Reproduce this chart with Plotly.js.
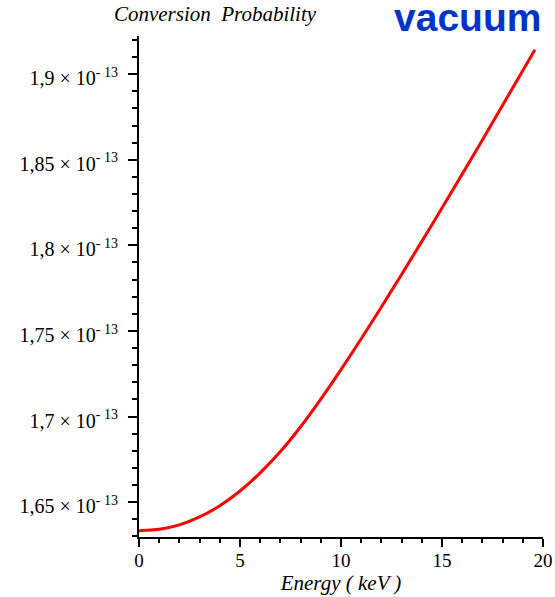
<!DOCTYPE html>
<html>
<head>
<meta charset="utf-8">
<script src="https://cdn.plot.ly/plotly-3.0.1.min.js"></script>
<style>
  html, body { margin: 0; padding: 0; background: #ffffff; }
  #plot { width: 555px; height: 597px; }
</style>
</head>
<body>
<div id="plot"></div>
<script>
// Photon energy (keV)
const energy = [0, 1, 2, 3, 4, 5, 6, 7, 8, 9, 10, 11, 12, 13, 14, 15, 16, 17, 18, 19, 19.6];

// Conversion probability in vacuum
const probability = [
  1.6333e-13, 1.6341e-13, 1.6367e-13, 1.6413e-13, 1.6479e-13, 1.6565e-13,
  1.6671e-13, 1.6795e-13, 1.6940e-13, 1.7102e-13, 1.7274e-13, 1.7454e-13,
  1.7640e-13, 1.7830e-13, 1.8023e-13, 1.8218e-13, 1.8416e-13, 1.8616e-13,
  1.8818e-13, 1.9021e-13, 1.9143e-13
];

// Axis tick positions and labels
const xTickVals = [0, 5, 10, 15, 20];
const yTickVals = [1.65e-13, 1.70e-13, 1.75e-13, 1.80e-13, 1.85e-13, 1.90e-13];
const yTickText = [
  '1,65 × 10<sup>- 13</sup>',
  '1,7 × 10<sup>- 13</sup>',
  '1,75 × 10<sup>- 13</sup>',
  '1,8 × 10<sup>- 13</sup>',
  '1,85 × 10<sup>- 13</sup>',
  '1,9 × 10<sup>- 13</sup>'
];

const serif = 'Liberation Serif, Times New Roman, serif';

const trace = {
  x: energy,
  y: probability,
  type: 'scatter',
  mode: 'lines',
  line: { color: '#ff0000', width: 3, shape: 'spline', smoothing: 0.8 },
  hoverinfo: 'skip'
};

const layout = {
  width: 555,
  height: 597,
  margin: { l: 139, r: 12, t: 36, b: 60, pad: 0 },
  paper_bgcolor: '#ffffff',
  plot_bgcolor: '#ffffff',
  showlegend: false,
  title: {
    text: '<i>Conversion  Probability</i>',
    font: { family: serif, size: 21, color: '#000000' },
    xref: 'container', yref: 'container',
    x: 215 / 555, xanchor: 'center',
    y: 1 - 14 / 597, yanchor: 'middle'
  },
  xaxis: {
    range: [0, 20],
    tickmode: 'array',
    tickvals: xTickVals,
    ticktext: xTickVals.map(String),
    ticks: 'outside', ticklen: 8, tickwidth: 2, tickcolor: '#000000',
    minor: { dtick: 1, tick0: 0, ticks: 'outside', ticklen: 4, tickwidth: 2, tickcolor: '#000000', showgrid: false },
    showline: true, linewidth: 2, linecolor: '#000000',
    showgrid: false, zeroline: false,
    tickfont: { family: serif, size: 19, color: '#000000' },
    ticklabelstandoff: -3,
    title: {
      text: '<i>Energy ( keV )</i>',
      font: { family: serif, size: 21, color: '#000000' },
      standoff: 1
    },
    fixedrange: true
  },
  yaxis: {
    range: [1.6296e-13, 1.9223e-13],
    tickmode: 'array',
    tickvals: yTickVals,
    ticktext: yTickText,
    ticks: 'outside', ticklen: 9, tickwidth: 2, tickcolor: '#000000',
    minor: { tickmode: 'linear', tick0: 1.6e-13, dtick: 0.01e-13, ticks: 'outside', ticklen: 5, tickwidth: 2, tickcolor: '#000000', showgrid: false },
    showline: true, linewidth: 2, linecolor: '#000000',
    showgrid: false, zeroline: false,
    tickfont: { family: serif, size: 20, color: '#000000' },
    ticklabelstandoff: 6,
    ticklabelshift: 4,
    fixedrange: true
  },
  annotations: [{
    text: '<b>vacuum</b>',
    xref: 'paper', yref: 'paper',
    x: (467 - 139) / 404, xanchor: 'center',
    y: 1 + (36 - 18) / 501, yanchor: 'middle',
    showarrow: false,
    font: { family: 'Liberation Sans, Arial, sans-serif', size: 39, color: '#0033cc' }
  }]
};

Plotly.newPlot('plot', [trace], layout, { displayModeBar: false, staticPlot: true });
</script>
</body>
</html>
